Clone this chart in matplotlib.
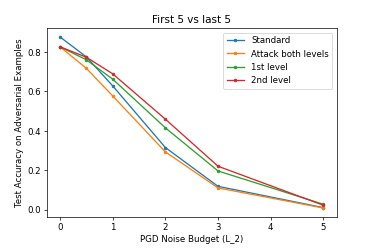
import numpy as np
import matplotlib
matplotlib.use('Agg')
import matplotlib.pyplot as plt

# PGD noise budgets (L_2)
budget = [0, 0.5, 1, 2, 3, 5]

# test accuracy on adversarial examples
acc_standard = [0.876, 0.775, 0.628, 0.315, 0.118, 0.010]
acc_both = [0.826, 0.717, 0.577, 0.293, 0.110, 0.008]
acc_first = [0.826, 0.760, 0.662, 0.415, 0.196, 0.027]
acc_second = [0.826, 0.773, 0.689, 0.459, 0.220, 0.022]

series = [
    ("Standard", acc_standard, "#1f77b4"),
    ("Attack both levels", acc_both, "#ff7f0e"),
    ("1st level", acc_first, "#2ca02c"),
    ("2nd level", acc_second, "#d62728"),
]

fig, ax = plt.subplots(figsize=(6, 4), dpi=374 / 6)
fig.subplots_adjust(left=0.125, right=0.9, bottom=0.13, top=0.885)

for label, vals, c in series:
    ax.plot(budget, vals, marker='o', ms=3, lw=1.5, color=c, label=label)

ax.set_title("First 5 vs last 5")
ax.set_xlabel("PGD Noise Budget (L_2)")
ax.set_ylabel("Test Accuracy on Adversarial Examples")
ax.set_yticks([0.0, 0.2, 0.4, 0.6, 0.8])
ax.legend(loc='upper right')

plt.savefig("out.png", dpi=374 / 6)
